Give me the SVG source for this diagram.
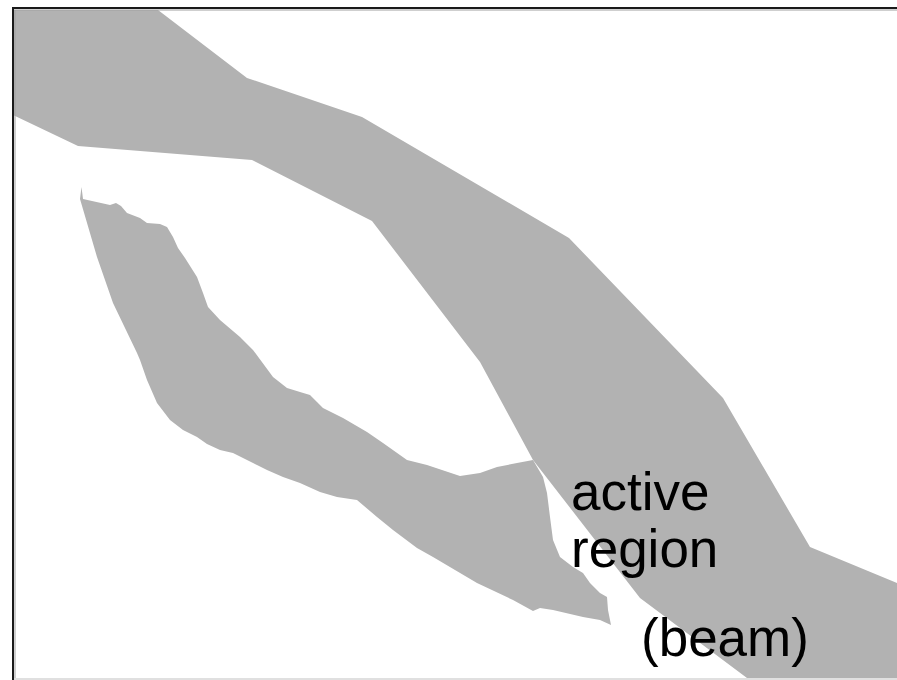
<svg xmlns="http://www.w3.org/2000/svg" width="897" height="680" viewBox="0 0 897 680">
  <style>
    .fill { fill: #b2b2b2; stroke: none; }
    .label { font-family: "Liberation Sans", Arial, sans-serif; font-size: 53px; fill: #000; }
  </style>
  <rect x="0" y="0" width="897" height="680" fill="#ffffff"/>

  <!-- beam band crossing the frame -->
  <g id="beam">
    <polygon class="fill" points="13,10 158,10 247,78 362,117 569,238 723,398 810,547 897,583 897,678 747,678 640,598 533,460 480,362 372,221 252,160 78,146 13,115"/>
  </g>

  <!-- irregular body below the beam -->
  <g id="body">
    <path class="fill" d="M80,199 L81.5,187 L83,199 L110,205 L116,203 L121,206 L127,213 L140,218 L147,223 L160,224 L167,227 L173,237 L178,248 L185,258 L197,277 L203,293 L208,307 L220,320 L240,337 L253,350 L273,377 L287,388 L300,392 L310,395 L317,402 L323,408 L343,418 L367,432 L383,443 L407,460 L427,465 L460,476 L480,473 L497,467 L517,463 L533,460 L543,477 L547,493 L550,517 L553,540 L560,557 L573,567 L583,573 L590,583 L600,593 L607,597 L608,610 L611,625 L600,620 L583,617 L553,610 L540,608 L533,611 L513,600 L477,583 L433,557 L417,548 L393,530 L377,517 L357,500 L337,497 L320,492 L300,483 L283,477 L267,470 L253,463 L233,453 L220,450 L207,444 L197,437 L183,430 L170,420 L157,403 L147,380 L140,360 L137,353 L113,303 L97,257 Z"/>
  </g>

  <!-- labels -->
  <g id="labels">
    <text class="label" x="571" y="510">active</text>
    <text class="label" x="571" y="567">region</text>
    <text class="label" x="641" y="656">(beam)</text>
  </g>

  <!-- window frame -->
  <g id="frame" fill="none">
    <line x1="12" y1="8" x2="897" y2="8" stroke="#1a1a1a" stroke-width="2"/>
    <line x1="14" y1="10" x2="897" y2="10" stroke="#a0a0a0" stroke-width="1"/>
    <line x1="13" y1="8" x2="13" y2="680" stroke="#1a1a1a" stroke-width="2"/>
    <line x1="15" y1="10" x2="15" y2="680" stroke="#a0a0a0" stroke-width="1"/>
    <line x1="14" y1="679" x2="897" y2="679" stroke="#e0e0e0" stroke-width="2"/>
  </g>
</svg>
